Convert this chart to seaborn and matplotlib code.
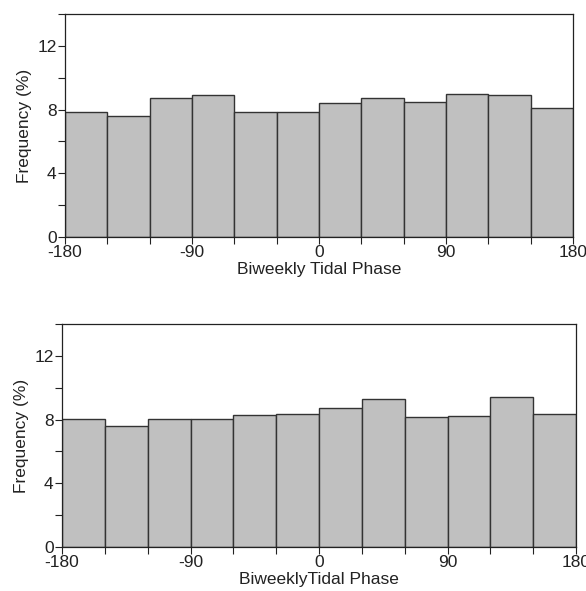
import numpy as np
import matplotlib
matplotlib.use("Agg")
import matplotlib.pyplot as plt
from matplotlib.ticker import MultipleLocator
import seaborn as sns

# Dados (frequência em % por classe de fase, 30 graus cada)
bin_edges = list(range(-180, 181, 30))
bin_centers = [e + 15 for e in bin_edges[:-1]]
freq_top = [7.86, 7.60, 8.70, 8.93, 7.86, 7.86, 8.40, 8.74, 8.49, 8.99, 8.93, 8.07]
freq_bottom = [8.01, 7.59, 8.01, 8.01, 8.29, 8.37, 8.75, 9.27, 8.14, 8.22, 9.44, 8.37]
xlabels = ["Biweekly Tidal Phase", "BiweeklyTidal Phase"]

sns.set_style("ticks")
plt.rcParams["font.family"] = ["Liberation Sans", "DejaVu Sans"]
plt.rcParams["font.size"] = 12.5
plt.rcParams["axes.unicode_minus"] = False

fig = plt.figure(figsize=(5.86, 5.91), dpi=100)
W, H = 586, 591
axes_px = [(65, 14, 573, 237), (62, 324, 576, 547)]

for (x0, y0, x1, y1), freq, xlab in zip(axes_px, [freq_top, freq_bottom], xlabels):
    ax = fig.add_axes([x0 / W, 1 - y1 / H, (x1 - x0) / W, (y1 - y0) / H])
    sns.histplot(x=bin_centers, weights=freq, bins=bin_edges, ax=ax,
                 color="#c0c0c0", alpha=1, edgecolor="#333333", linewidth=1)
    ax.set_xlim(-180, 180)
    ax.set_ylim(0, 14)
    ax.set_xticks([-180, -90, 0, 90, 180])
    ax.xaxis.set_minor_locator(MultipleLocator(30))
    ax.set_yticks([0, 4, 8, 12])
    ax.yaxis.set_minor_locator(MultipleLocator(2))
    ax.tick_params(which="both", direction="out", length=5, width=0.8, colors="#222222",
                   labelsize=12.5, pad=1)
    ax.set_ylabel("Frequency (%)", fontsize=12.5, color="#222222")
    ax.set_xlabel(xlab, fontsize=12.5, color="#222222", labelpad=1)
    for s in ax.spines.values():
        s.set_visible(True)
        s.set_color("#222222")
        s.set_linewidth(0.9)

fig.savefig("out.png", dpi=100)
